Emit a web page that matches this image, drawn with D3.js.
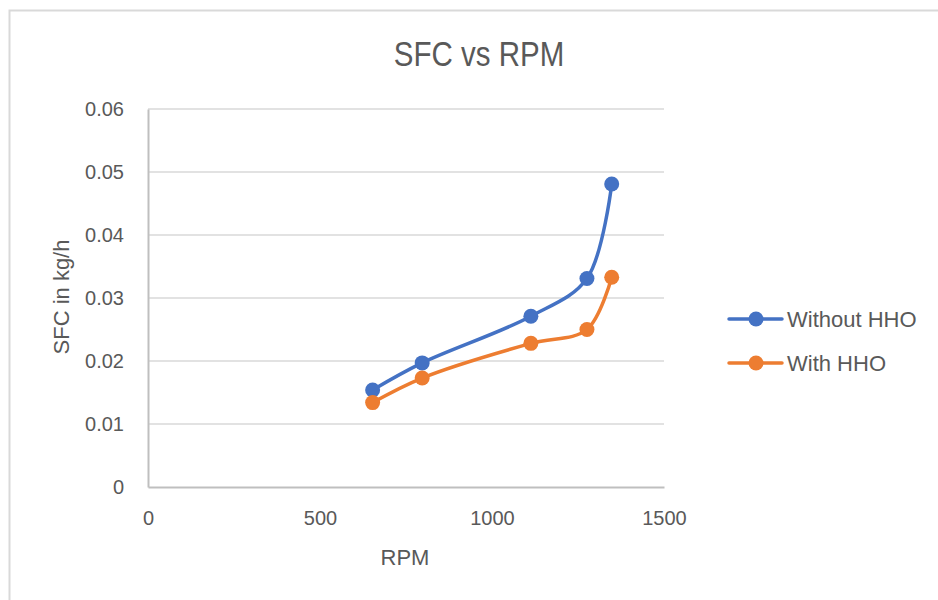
<!DOCTYPE html>
<meta charset="utf-8">
<script src="https://cdn.jsdelivr.net/npm/d3@7"></script>
<style>
body { margin: 0; background: #fff; }
text { font-family: "Liberation Sans", Arial, sans-serif; fill: #595959; }
.grid line { stroke: #d9d9d9; stroke-width: 1.5px; }
</style>
<body>
<script>

var rpm = [653, 797, 1113, 1276, 1348];
var sfcWithout = [0.0154, 0.0197, 0.0271, 0.0331, 0.0481];
var sfcWith = [0.0134, 0.0173, 0.0228, 0.0250, 0.0333];
var seriesNames = ["Without HHO", "With HHO"];
var colors = ["#4472C4", "#ED7D31"];
var xTicks = [0, 500, 1000, 1500];
var yTicks = [0, 0.01, 0.02, 0.03, 0.04, 0.05, 0.06];

var width = 938,
    height = 600;

var svg = d3.select("body").append("svg")
    .attr("width", width)
    .attr("height", height);

// chart border
svg.append("rect")
    .attr("x", 9.5)
    .attr("y", 10.5)
    .attr("width", 940)
    .attr("height", 600)
    .attr("fill", "none")
    .attr("stroke", "#d9d9d9")
    .attr("stroke-width", 2);

var x = d3.scaleLinear().domain([0, 1500]).range([148, 664]);
var y = d3.scaleLinear().domain([0, 0.06]).range([487, 109]);

// gridlines
svg.append("g")
    .attr("class", "grid")
    .selectAll("line")
    .data(yTicks.filter(function(d) { return d > 0; }))
    .enter().append("line")
    .attr("x1", x(0))
    .attr("x2", x(1500))
    .attr("y1", function(d) { return y(d); })
    .attr("y2", function(d) { return y(d); });

// axes
var xAxis = svg.append("g")
    .attr("transform", "translate(0," + y(0) + ")")
    .call(d3.axisBottom(x).tickValues(xTicks).tickSize(0).tickPadding(24).tickFormat(d3.format("d")));
xAxis.select(".domain").attr("stroke", "#bfbfbf").attr("stroke-width", 2);
xAxis.selectAll("text").style("font-size", "20px").style("fill", "#595959");

var yAxis = svg.append("g")
    .attr("transform", "translate(" + x(0) + ",0)")
    .call(d3.axisLeft(y).tickValues(yTicks).tickSize(0).tickPadding(24)
      .tickFormat(function(d) { return d === 0 ? "0" : d3.format(".2f")(d); }));
yAxis.select(".domain").attr("stroke", "#bfbfbf").attr("stroke-width", 2);
yAxis.selectAll("text").style("font-size", "20px").style("fill", "#595959");

// titles
svg.append("text")
    .attr("transform", "translate(479,66) scale(0.82,1)")
    .attr("text-anchor", "middle")
    .style("font-size", "36px")
    .text("SFC vs RPM");

svg.append("text")
    .attr("x", 405)
    .attr("y", 565)
    .attr("text-anchor", "middle")
    .style("font-size", "22px")
    .text("RPM");

svg.append("text")
    .attr("transform", "translate(69,297) rotate(-90)")
    .attr("text-anchor", "middle")
    .style("font-size", "22px")
    .text("SFC in kg/h");

// lines
var series = [sfcWithout, sfcWith];

var line = d3.line()
    .x(function(d, i) { return x(rpm[i]); })
    .y(function(d) { return y(d); })
    .curve(d3.curveCatmullRom.alpha(0.5));

series.forEach(function(vals, s) {
  svg.append("path")
      .datum(vals)
      .attr("d", line)
      .attr("fill", "none")
      .attr("stroke", colors[s])
      .attr("stroke-width", 3.5)
      .attr("stroke-linecap", "round");

  svg.append("g")
      .selectAll("circle")
      .data(vals)
      .enter().append("circle")
      .attr("cx", function(d, i) { return x(rpm[i]); })
      .attr("cy", function(d) { return y(d); })
      .attr("r", 7.5)
      .attr("fill", colors[s]);
});

// legend
var legend = svg.append("g")
    .selectAll("g")
    .data(seriesNames)
    .enter().append("g")
    .attr("transform", function(d, i) { return "translate(0," + (319 + i * 44) + ")"; });

legend.append("line")
    .attr("x1", 729)
    .attr("x2", 782)
    .attr("stroke", function(d, i) { return colors[i]; })
    .attr("stroke-width", 3.5)
    .attr("stroke-linecap", "round");

legend.append("circle")
    .attr("cx", 756)
    .attr("r", 7.5)
    .attr("fill", function(d, i) { return colors[i]; });

legend.append("text")
    .attr("x", 787)
    .attr("y", 8)
    .style("font-size", "22px")
    .text(function(d) { return d; });

</script>
</body>
